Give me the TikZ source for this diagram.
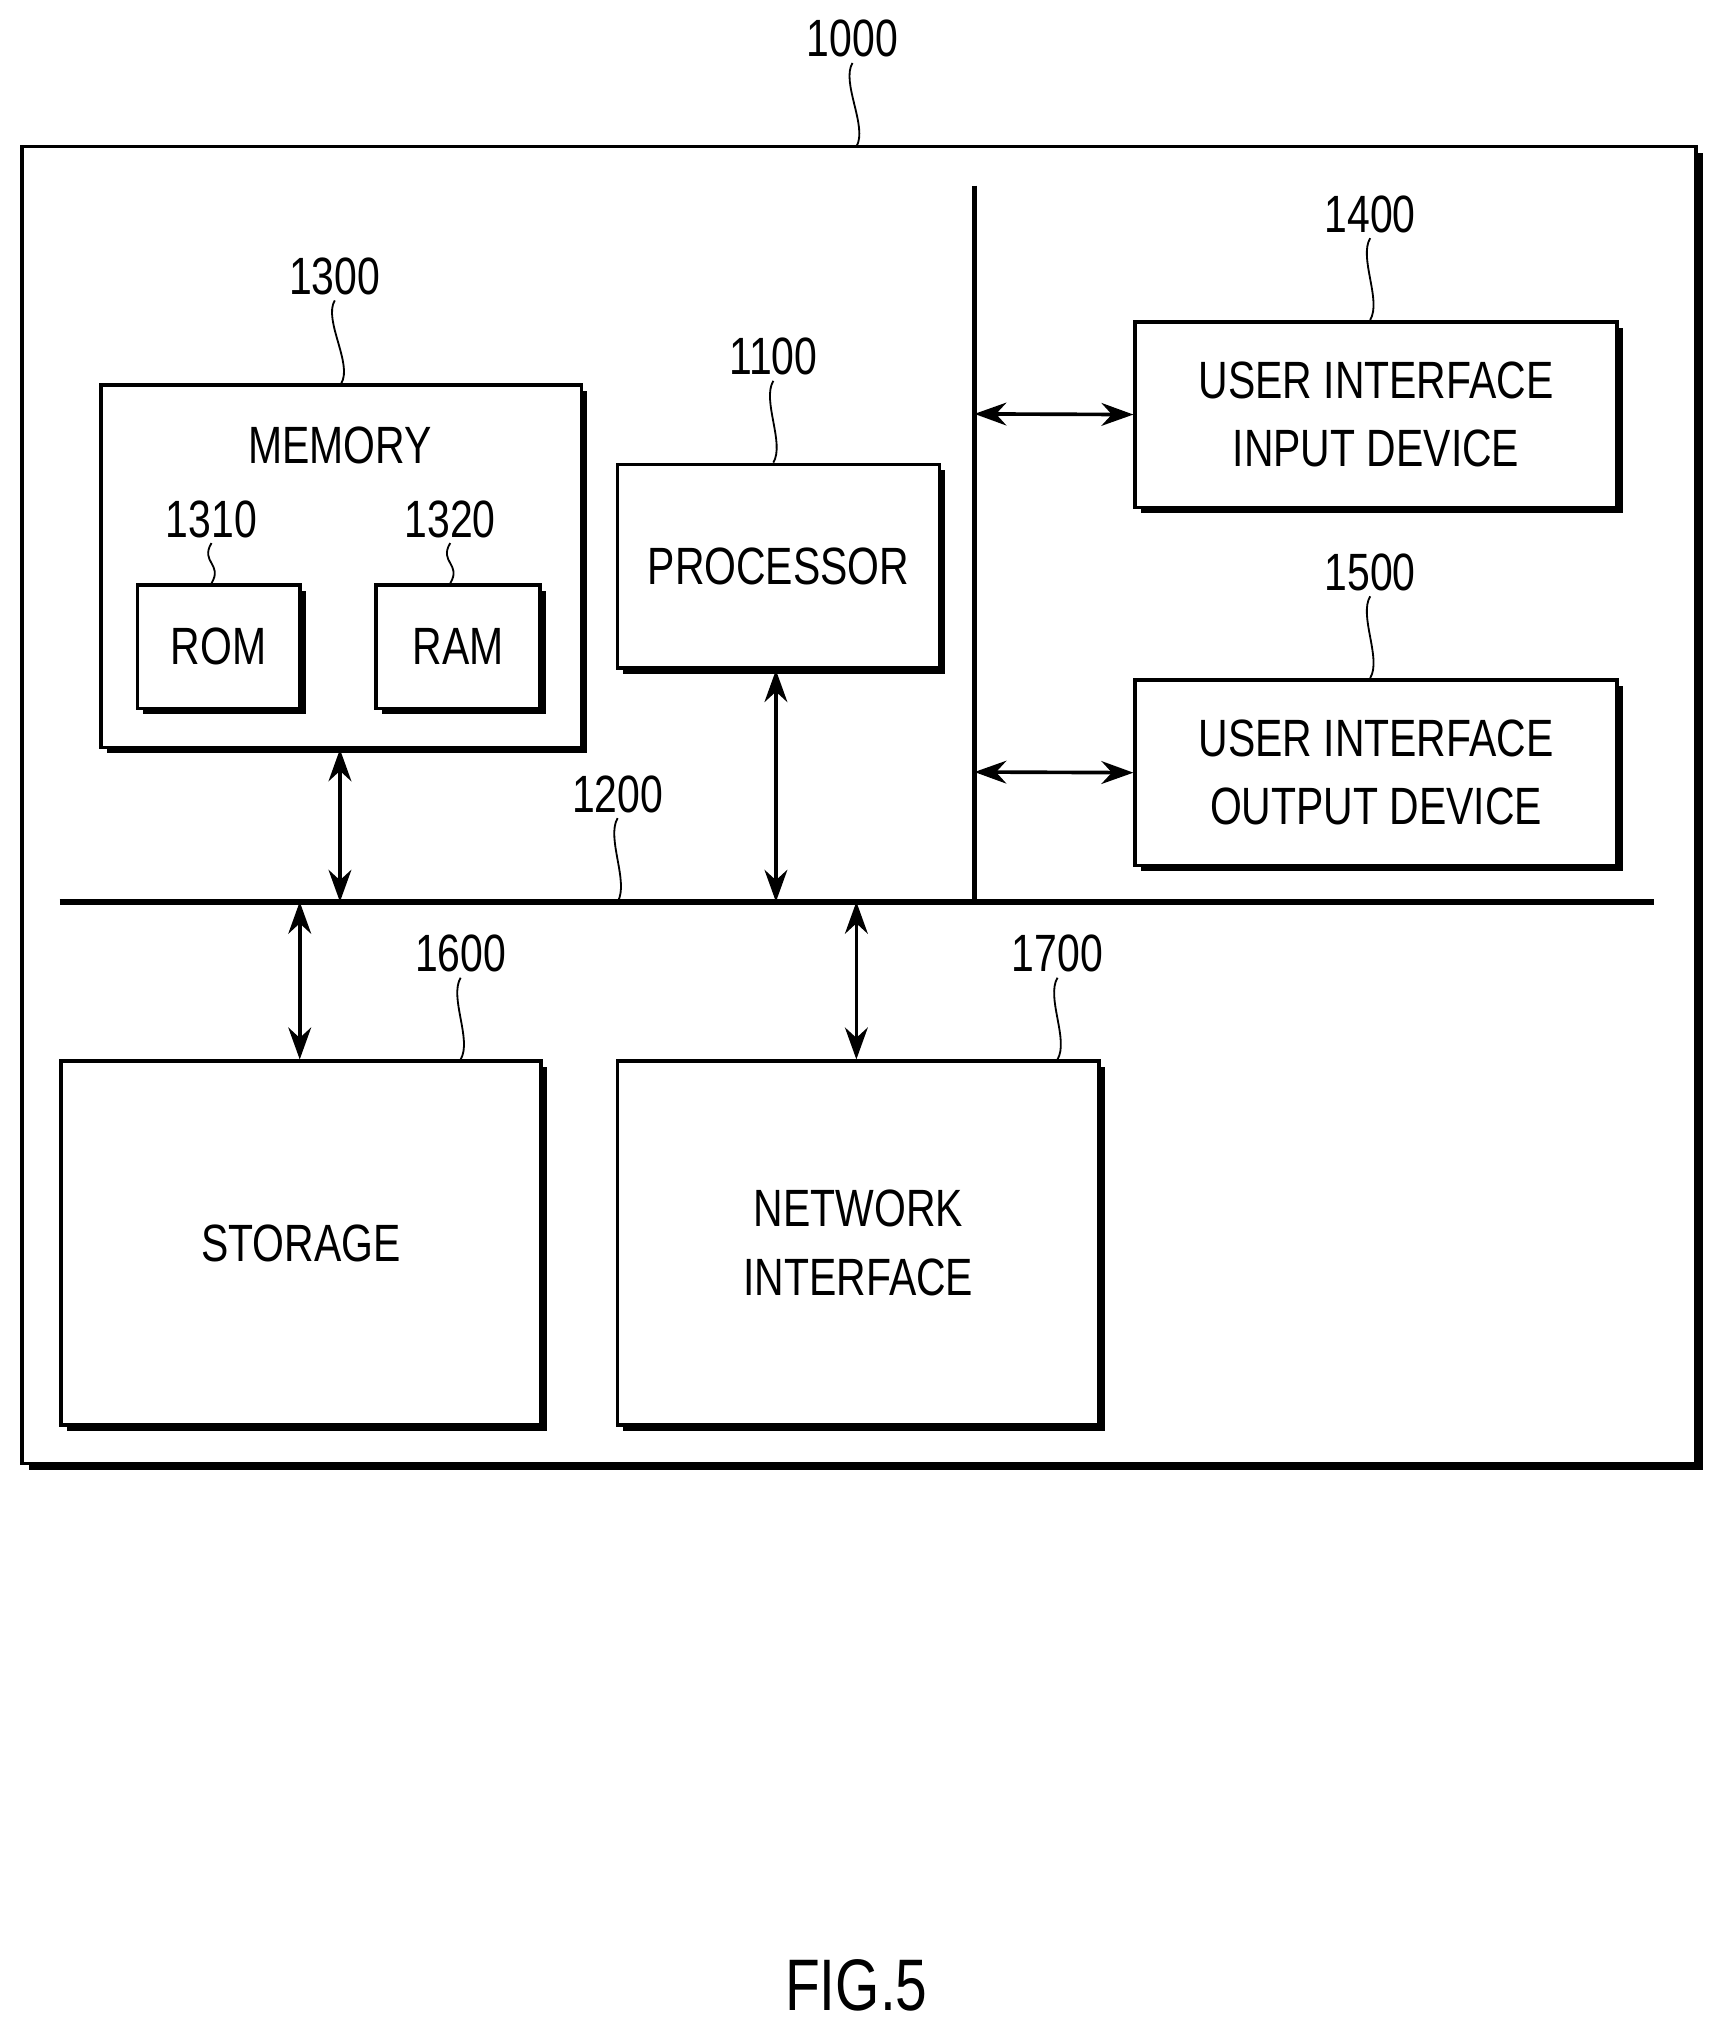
\documentclass[tikz,border=0pt]{standalone}
\usepackage{fontspec}
\setmainfont{Liberation Sans}[FakeStretch=0.78]
\usetikzlibrary{shadows,arrows.meta}
\tikzset{
  box/.style={draw, thick, fill=white, align=center, inner sep=0pt,
    drop shadow={shadow xshift=1.3pt, shadow yshift=-1.3pt, opacity=1, fill=black}},
  ref/.style={inner sep=1pt},
  link/.style={{Stealth[length=7pt,width=5pt]}-{Stealth[length=7pt,width=5pt]}, thick},
}
\newcommand{\squig}[2]{\draw (#1) .. controls +(-9,15) and +(9,-15) .. (#2);}
\begin{document}
\begin{tikzpicture}[x=0.01cm, y=-0.01cm, font=\fontsize{11.5}{15}\selectfont]
\useasboundingbox (0,0) rectangle (1330,1573);
% outer frame
\draw[thick, fill=white, drop shadow={shadow xshift=1.5pt, shadow yshift=-1.5pt, opacity=1, fill=black}] (17,113) rectangle (1307,1128);
\node[ref] (l1000) at (657,30) {1000};
\coordinate (t1000) at (660,113);
\squig{l1000.south}{t1000}

% memory
\node[box, minimum width=3.7cm, minimum height=2.79cm] (mem) at (263,436.5) {};
\node at (262,343) {MEMORY};
\node[box, minimum width=1.25cm, minimum height=0.95cm] (rom) at (168.5,498.5) {ROM};
\node[box, minimum width=1.26cm, minimum height=0.95cm] (ram) at (353,498.5) {RAM};
\node[ref] (l1300) at (258,213) {1300};
\squig{l1300.south}{mem.north}
\node[ref] (l1310) at (163,400) {1310};
\squig{l1310.south}{rom.north west -| l1310.south}
\node[ref] (l1320) at (347,400) {1320};
\squig{l1320.south}{ram.north west -| l1320.south}

% processor
\node[box, minimum width=2.48cm, minimum height=1.57cm] (cpu) at (600,436.5) {PROCESSOR};
\node[ref] (l1100) at (596,275) {1100};
\squig{l1100.south}{cpu.north west -| l1100.south}

% user interface
\node[box, minimum width=3.71cm, minimum height=1.43cm] (uin) at (1060.5,319.5) {USER INTERFACE\\INPUT DEVICE};
\node[ref] (l1400) at (1056,165) {1400};
\squig{l1400.south}{uin.north west -| l1400.south}
\node[box, minimum width=3.71cm, minimum height=1.43cm] (uout) at (1060.5,595.5) {USER INTERFACE\\OUTPUT DEVICE};
\node[ref] (l1500) at (1056,441) {1500};
\squig{l1500.south}{uout.north west -| l1500.south}

% bus
\coordinate (busL) at (46,695);
\coordinate (busR) at (1275,695);
\coordinate (vtop) at (751,143);
\coordinate (vbot) at (751,695);
\draw[very thick] (busL) -- (busR);
\draw[very thick] (vtop) -- (vbot);
\node[ref] (l1200) at (476,612) {1200};
\squig{l1200.south}{l1200.south |- busL}

% storage and network
\node[box, minimum width=3.7cm, minimum height=2.8cm] (sto) at (232,958) {STORAGE};
\node[ref] (l1600) at (355,735) {1600};
\squig{l1600.south}{sto.north west -| l1600.south}
\node[box, minimum width=3.71cm, minimum height=2.8cm] (net) at (661.5,958) {NETWORK\\INTERFACE};
\node[ref] (l1700) at (815,735) {1700};
\squig{l1700.south}{net.north west -| l1700.south}

% connections
\draw[link] (mem.south -| 262,0) -- (262,695);
\draw[link] (cpu.south -| 598,0) -- (598,695);
\draw[link] (751,319) -- (uin.west);
\draw[link] (751,595) -- (uout.west);
\draw[link] (231,695) -- (sto.north -| 231,0);
\draw[link] (660,695) -- (net.north -| 660,0);

\node[font=\fontsize{16}{20}\selectfont] (fig) at (660,1530) {FIG.5};
\end{tikzpicture}
\end{document}
